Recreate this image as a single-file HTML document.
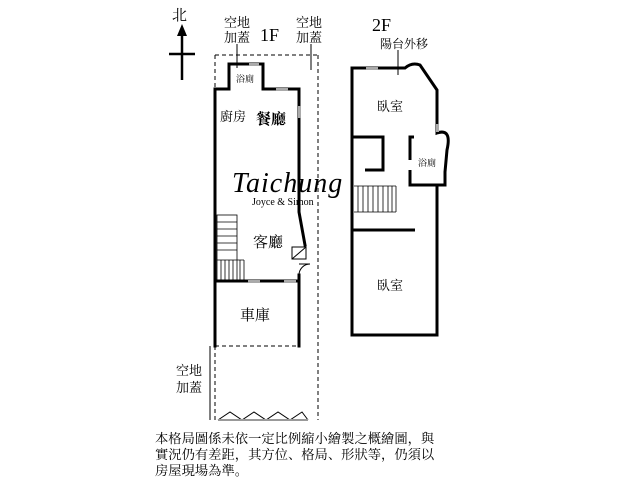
<!DOCTYPE html>
<html><head><meta charset="utf-8"><style>
html,body{margin:0;padding:0;background:#fff;}
svg{display:block;}
text{font-family:"Liberation Serif","Noto Serif CJK SC","Noto Sans CJK SC",serif;fill:#000;}
</style></head><body>
<svg width="640" height="480" viewBox="0 0 640 480" xmlns="http://www.w3.org/2000/svg">
<text x="172" y="20" font-size="15">北</text>
<line x1="182" y1="28" x2="182" y2="80" stroke="#000" stroke-width="2.5"/>
<polygon points="182,24 177,36 187,36" fill="#000"/>
<line x1="169" y1="54" x2="195" y2="54" stroke="#000" stroke-width="2.5"/>
<text x="224" y="27" font-size="13">空地</text>
<text x="224" y="42" font-size="13">加蓋</text>
<text x="260" y="41" font-size="18">1F</text>
<text x="296" y="27" font-size="13">空地</text>
<text x="296" y="42" font-size="13">加蓋</text>
<line x1="237" y1="44" x2="237" y2="68" stroke="#000" stroke-width="1"/>
<line x1="311" y1="44" x2="311" y2="70" stroke="#000" stroke-width="1"/>
<g stroke="#000" stroke-width="1" stroke-dasharray="4,3" fill="none">
<line x1="215" y1="55" x2="318" y2="55"/>
<line x1="215" y1="55" x2="215" y2="89"/>
<line x1="318" y1="55" x2="318" y2="420"/>
<line x1="215" y1="346" x2="299" y2="346"/>
<line x1="215" y1="346" x2="215" y2="420"/>
</g>
<line x1="210" y1="346" x2="210" y2="420" stroke="#000" stroke-width="1"/>
<text x="176" y="375" font-size="13">空地</text>
<text x="176" y="392" font-size="13">加蓋</text>
<polyline points="218,420 230,412 242,420 254,412 266,420 278,412 290,420 302,412 308,420" fill="none" stroke="#000" stroke-width="1"/>
<line x1="218" y1="420" x2="308" y2="420" stroke="#999" stroke-width="2"/>
<g stroke="#000" stroke-width="3" fill="none" stroke-linecap="square">
<polyline points="229,89 215,89 215,346"/>
<polyline points="229,89 229,64 263,64 263,89 299,89 299,212 305,245"/>
<line x1="299" y1="275" x2="299" y2="346"/>
<line x1="215" y1="281" x2="299" y2="281"/>
</g>
<rect x="292" y="247" width="14" height="12" fill="#fff" stroke="#000" stroke-width="1"/>
<line x1="292" y1="259" x2="306" y2="247" stroke="#000" stroke-width="1"/>
<path d="M299,264 L310,264 A11,11 0 0 0 299,275" fill="none" stroke="#000" stroke-width="1"/>
<rect x="249" y="63" width="10" height="3" fill="#aaa"/>
<rect x="276" y="88" width="12" height="3" fill="#aaa"/>
<rect x="298" y="106" width="3" height="12" fill="#aaa"/>
<rect x="248" y="280" width="12" height="3" fill="#aaa"/>
<rect x="284" y="280" width="12" height="3" fill="#aaa"/>
<g stroke="#000" stroke-width="0.8">
<rect x="217" y="215" width="20" height="66" fill="none"/>
<line x1="217" y1="222" x2="237" y2="222"/><line x1="217" y1="229" x2="237" y2="229"/>
<line x1="217" y1="236" x2="237" y2="236"/><line x1="217" y1="243" x2="237" y2="243"/>
<line x1="217" y1="250" x2="237" y2="250"/><line x1="217" y1="260" x2="244" y2="260"/>
<line x1="221" y1="260" x2="221" y2="281"/><line x1="225" y1="260" x2="225" y2="281"/>
<line x1="229" y1="260" x2="229" y2="281"/><line x1="233" y1="260" x2="233" y2="281"/>
<line x1="240" y1="260" x2="240" y2="281"/><line x1="244" y1="260" x2="244" y2="281"/>
</g>
<text x="236" y="82" font-size="9">浴廁</text>
<text x="220" y="121" font-size="13">廚房</text>
<text x="256" y="124" font-size="15" font-weight="bold">餐廳</text>
<text x="253" y="247" font-size="15">客廳</text>
<text x="240" y="320" font-size="15">車庫</text>
<text x="232" y="192" font-size="28" font-style="italic" letter-spacing="1">Taichung</text>
<text x="252" y="205" font-size="10">Joyce &amp; Simon</text>
<text x="372" y="31" font-size="18">2F</text>
<text x="380" y="48" font-size="12">陽台外移</text>
<line x1="398" y1="50" x2="398" y2="75" stroke="#000" stroke-width="1"/>
<g stroke="#000" stroke-width="3" fill="none">
<path d="M352,68 L405,68 Q412,62 420,65 L437,90 L437,133 Q452,128 447,150 L445,172 L445,185 L437,185 L437,335 L352,335 Z"/>
<polyline points="352,137 383,137 383,170 365,170"/>
<polyline points="414,137 410,137 410,160"/>
<polyline points="410,170 410,185 437,185"/>
<line x1="352" y1="230" x2="415" y2="230"/>
</g>
<g stroke="#000" stroke-width="0.8">
<line x1="354" y1="186" x2="396" y2="186"/><line x1="354" y1="212" x2="396" y2="212"/>
<line x1="396" y1="186" x2="396" y2="212"/>
<line x1="358" y1="186" x2="358" y2="212"/><line x1="363" y1="186" x2="363" y2="212"/>
<line x1="368" y1="186" x2="368" y2="212"/><line x1="373" y1="186" x2="373" y2="212"/>
<line x1="378" y1="186" x2="378" y2="212"/><line x1="383" y1="186" x2="383" y2="212"/>
<line x1="388" y1="186" x2="388" y2="212"/><line x1="392" y1="186" x2="392" y2="212"/>
</g>
<rect x="366" y="67" width="12" height="3" fill="#aaa"/>
<rect x="436" y="124" width="3" height="8" fill="#aaa"/>
<text x="377" y="111" font-size="13">臥室</text>
<text x="418" y="166" font-size="9">浴廁</text>
<text x="377" y="290" font-size="13">臥室</text>
<text x="155" y="443" font-size="13.3">本格局圖係未依一定比例縮小繪製之概繪圖，與</text>
<text x="155" y="459" font-size="13.3">實況仍有差距，其方位、格局、形狀等，仍須以</text>
<text x="155" y="475" font-size="13.3">房屋現場為準。</text>
</svg>
</body></html>
